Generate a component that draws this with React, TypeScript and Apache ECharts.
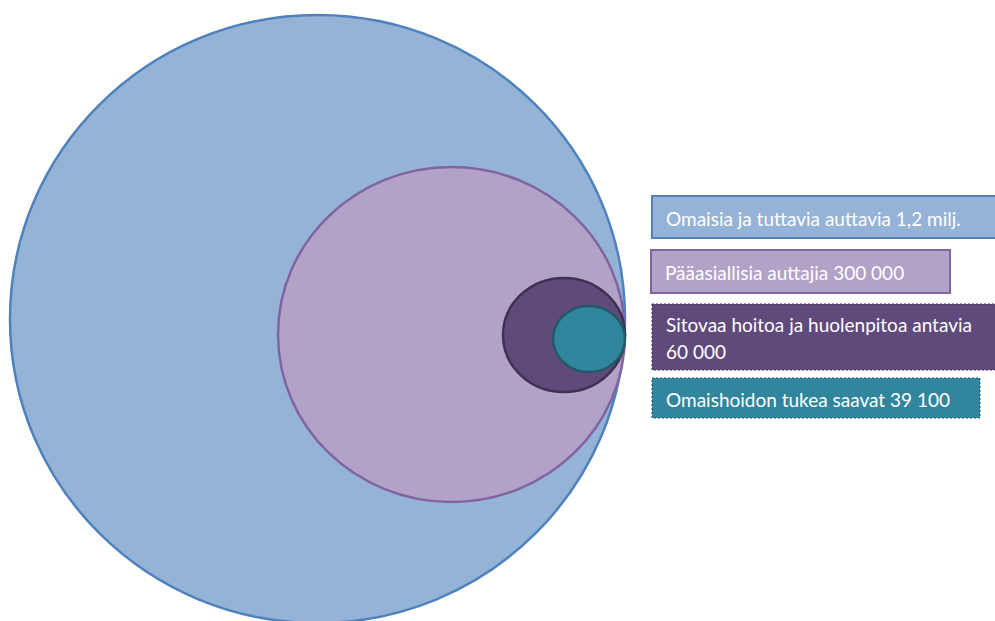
import React, { useEffect, useRef } from "react";
import * as echarts from "echarts";

// Groups (outermost to innermost) and their counts
const groupLabels = [
  "Omaisia ja tuttavia auttavia 1,2 milj.",
  "Pääasiallisia auttajia 300 000",
  "Sitovaa hoitoa ja huolenpitoa antavia\n60 000",
  "Omaishoidon tukea saavat 39 100",
];
const groupValues = [1200000, 300000, 60000, 39100];

// Illustrative circle sizes (diagram units)
const circleWidths = [615, 347, 122, 72];
const circleHeights = [608, 335, 114, 66];
const circleCenterY = [319, 334.5, 335, 339];
const tangentX = 625;

const fills = ["#95B3D7", "#B3A2C7", "#604A7B", "#31859C"];
const strokes = ["#4F81BD", "#8064A2", "#3F3151", "#215968"];

// Label boxes layout
const boxX = [652, 651, 652, 652];
const boxY = [196, 250, 304, 378];
const boxW = [345, 299, 345, 328];
const boxH = [42, 43, 66, 40];
const boxStroke = ["#4F81BD", "#8064A2", "#3F3151", "#215968"];

export default function App() {
  const ref = useRef<HTMLDivElement>(null);
  useEffect(() => {
    document.body.style.margin = "0";
    if (!ref.current) return;
    const chart = echarts.init(ref.current, undefined, { renderer: "svg" });
    const data = circleWidths.map((w, i) => [tangentX - w / 2, circleCenterY[i], w / 2, circleHeights[i] / 2, groupValues[i]]);
    const graphic: any[] = groupLabels.map((label, i) => ({
      type: "group",
      children: [
        {
          type: "rect",
          shape: { x: boxX[i], y: boxY[i], width: boxW[i], height: boxH[i] },
          style: { fill: fills[i], stroke: boxStroke[i], lineWidth: i < 2 ? 2 : 1, lineDash: i < 2 ? null : [2, 2] },
        },
        {
          type: "text",
          x: boxX[i] + 14,
          y: boxY[i] + boxH[i] / 2 + 1,
          style: {
            text: label,
            fill: "#ffffff",
            font: "19px Lato",
            lineHeight: 27,
            verticalAlign: "middle",
            align: "left",
          },
        },
      ],
    }));
    chart.setOption({
      animation: false,
      grid: { left: 0, right: 0, top: 0, bottom: 0 },
      xAxis: { type: "value", min: 0, max: 995, show: false },
      yAxis: { type: "value", min: 0, max: 621, inverse: true, show: false },
      series: [
        {
          type: "custom",
          clip: true,
          data,
          renderItem: (params: any, api: any) => {
            const i = params.dataIndex;
            const c = api.coord([api.value(0), api.value(1)]);
            const s = api.size([api.value(2), api.value(3)]);
            return {
              type: "ellipse",
              shape: { cx: c[0], cy: c[1], rx: s[0], ry: s[1] },
              style: { fill: fills[i], stroke: strokes[i], lineWidth: 2.5 },
            };
          },
        },
      ],
      graphic,
    });
    return () => chart.dispose();
  }, []);
  return <div ref={ref} style={{ width: 995, height: 621 }} />;
}
